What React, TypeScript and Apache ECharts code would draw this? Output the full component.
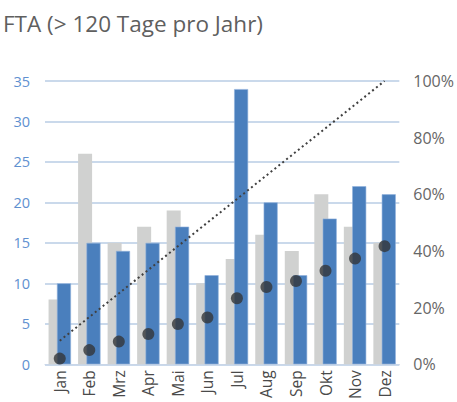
import React, { useEffect, useRef } from "react";
import * as echarts from "echarts";

const categories = ["Jan", "Feb", "Mrz", "Apr", "Mai", "Jun", "Jul", "Aug", "Sep", "Okt", "Nov", "Dez"];
const grayValues = [8, 26, 15, 17, 19, 10, 13, 16, 14, 21, 17, 15];
const blueValues = [10, 15, 14, 15, 17, 11, 34, 20, 11, 18, 22, 21];
const dotPercent = [2, 5, 8, 10.7, 14.2, 16.5, 23.3, 27.3, 29.4, 33, 37.3, 41.7];
const cumulativeLine = [8.33, 16.67, 25, 33.33, 41.67, 50, 58.33, 66.67, 75, 83.33, 91.67, 100];
const titleText = "FTA (> 120 Tage pro Jahr)";

export default function App() {
  const ref = useRef<HTMLDivElement>(null);
  useEffect(() => {
    if (!ref.current) return;
    const chart = echarts.init(ref.current, undefined, { renderer: "svg" });
    const font = "'Open Sans', 'Noto Sans', sans-serif";
    chart.setOption({
      animation: false,
      textStyle: { fontFamily: font },
      title: {
        text: titleText,
        left: -2,
        top: 7,
        textStyle: { fontFamily: font, fontSize: 22.5, fontWeight: "normal", color: "#5f5f5f" },
      },
      grid: { left: 45, right: 56, top: 81, bottom: 35, containLabel: false },
      xAxis: {
        type: "category",
        data: categories,
        axisLine: { lineStyle: { color: "#c9d6e8", width: 1 } },
        axisTick: { show: false },
        axisLabel: { rotate: 90, fontSize: 15.5, color: "#4a4a4a", margin: 6, fontFamily: font },
      },
      yAxis: [
        {
          type: "value",
          min: 0,
          max: 35,
          interval: 5,
          axisLine: { show: false },
          axisTick: { show: false },
          splitLine: { lineStyle: { color: "#b8cce4", width: 1.5 } },
          axisLabel: { fontSize: 14.5, color: "#6090d0", margin: 15, fontFamily: font },
        },
        {
          type: "value",
          min: 0,
          max: 100,
          interval: 20,
          axisLine: { show: false },
          axisTick: { show: false },
          splitLine: { show: false },
          axisLabel: { fontSize: 16, color: "#666666", margin: 14, formatter: "{value}%", fontFamily: font },
        },
      ],
      series: [
        {
          type: "bar",
          data: grayValues,
          barWidth: 14,
          barGap: "-40%",
          itemStyle: { color: "#d0d1d0" },
          z: 2,
        },
        {
          type: "bar",
          data: blueValues,
          barWidth: 14,
          itemStyle: { color: "#4a7fbd", borderColor: "#8fb0dc", borderWidth: 0.6 },
          z: 3,
        },
        {
          type: "line",
          yAxisIndex: 1,
          data: cumulativeLine,
          symbol: "none",
          lineStyle: { color: "#404040", width: 2, type: [2, 3] },
          z: 4,
        },
        {
          type: "scatter",
          yAxisIndex: 1,
          data: dotPercent,
          symbol: "circle",
          symbolSize: 12,
          itemStyle: { color: "#333638" },
          z: 5,
        },
      ],
    });
    return () => chart.dispose();
  }, []);
  return <div ref={ref} style={{ width: 457, height: 402, position: "absolute", left: 0, top: 0 }} />;
}
